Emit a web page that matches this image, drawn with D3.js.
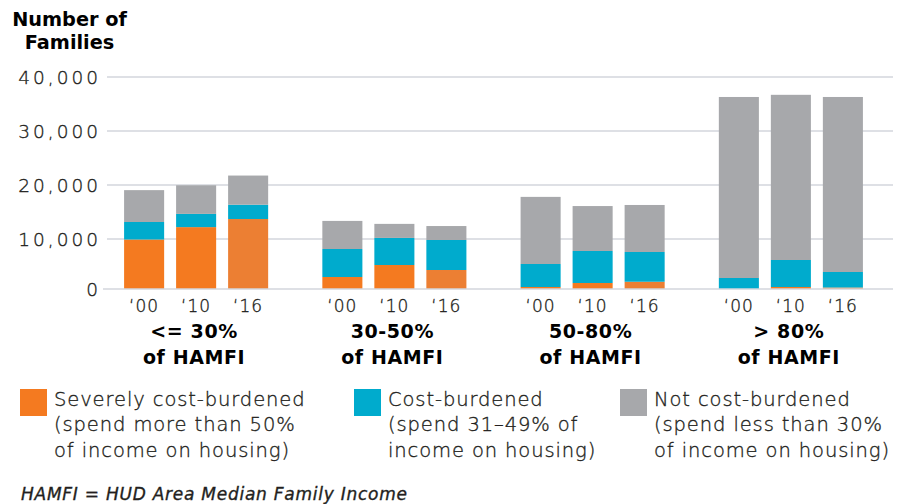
<!DOCTYPE html>
<html>
<head>
<meta charset="utf-8">
<script src="https://cdn.jsdelivr.net/npm/d3@7"></script>
<style>
  body { margin: 0; background: #fff; }
  svg text { font-family: "DejaVu Sans", sans-serif; }
  svg text.light { stroke: #231f20; stroke-width: 0.35px; }
</style>
</head>
<body>
<svg id="chart" width="902" height="504"></svg>
<script>
// Income brackets (share of HUD Area Median Family Income) and survey years
const groups = ["<= 30%", "30-50%", "50-80%", "> 80%"];
const groupSubLabel = "of HAMFI";
const years = ["‘00", "‘10", "‘16"];

// Number of families per bracket, one entry per year
const severe      = [[9900, 12200, 13700], [2400, 4800, 3800], [400, 1200, 1450], [0, 400, 300]];
const burdened    = [[3250, 2450, 2650],  [5600, 5400, 6000], [4600, 6400, 5950], [2200, 5400, 3100]];
const notBurdened = [[5900, 5300, 5400],  [5350, 2600, 2600], [12800, 8500, 8900], [34100, 30900, 32900]];

const yTicks = [0, 10000, 20000, 30000, 40000];
const titleLines = ["Number of", "Families"];
const footnote = "HAMFI = HUD Area Median Family Income";

const seriesKeys = ["severe", "burdened", "notBurdened"];
const legendLabels = [
  ["Severely cost-burdened", "(spend more than 50%", "of income on housing)"],
  ["Cost-burdened", "(spend 31–49% of", "income on housing)"],
  ["Not cost-burdened", "(spend less than 30%", "of income on housing)"]
];

// Styling
const colors = { severe: "#f47a20", burdened: "#00abcd", notBurdened: "#a7a8ab" };
const severeLatest = "#ec7f33";   // 2016 estimates are shaded a touch differently
const textColor = "#231f20";
const lightWeight = 200;

// Flatten into one row per bar
const rows = [];
groups.forEach((g, gi) => {
  years.forEach((yr, yi) => {
    rows.push({
      group: g, year: yr, yi,
      severe: severe[gi][yi],
      burdened: burdened[gi][yi],
      notBurdened: notBurdened[gi][yi]
    });
  });
});

const svg = d3.select("#chart");

// Scales: the bottom band of the axis is drawn slightly compressed
const y = d3.scaleLinear().domain([0, 10000, 40000]).range([289, 239, 77]);
const x0 = d3.scaleBand().domain(groups).range([97, 890]);
const x1 = d3.scaleBand().domain(years).range([0, x0.bandwidth()])
  .paddingInner(0.23).paddingOuter(0.521);

// Gridlines
svg.append("g")
  .selectAll("line")
  .data(yTicks.filter(d => d > 0))
  .join("line")
  .attr("x1", 107).attr("x2", 893)
  .attr("y1", d => y(d)).attr("y2", d => y(d))
  .attr("stroke", "#d3d6dc").attr("stroke-width", 1.3);

// Y tick labels (trailing letter-spacing is compensated in x)
const tickSpacing = 3;
svg.append("g")
  .selectAll("text")
  .data(yTicks)
  .join("text")
  .attr("class", "light")
  .attr("x", 98 + tickSpacing)
  .attr("y", d => y(d))
  .attr("dy", "0.36em")
  .attr("text-anchor", "end")
  .attr("font-size", 18.5)
  .attr("font-weight", lightWeight)
  .attr("letter-spacing", tickSpacing)
  .attr("fill", textColor)
  .text(d => d3.format(",")(d));

// Stacked bars
const stacked = d3.stack().keys(seriesKeys)(rows);
svg.append("g")
  .selectAll("g")
  .data(stacked)
  .join("g")
  .selectAll("rect")
  .data(s => s.map(d => ({ key: s.key, d })))
  .join("rect")
  .attr("x", o => x0(o.d.data.group) + x1(o.d.data.year))
  .attr("width", x1.bandwidth())
  .attr("y", o => y(o.d[1]))
  .attr("height", o => y(o.d[0]) - y(o.d[1]))
  .attr("fill", o => (o.key === "severe" && o.d.data.yi === 2) ? severeLatest : colors[o.key]);

// Baseline
svg.append("line")
  .attr("x1", 103).attr("x2", 893)
  .attr("y1", y(0)).attr("y2", y(0))
  .attr("stroke", "#d3d6dc").attr("stroke-width", 1.3);

// Year labels
svg.append("g")
  .selectAll("text")
  .data(rows)
  .join("text")
  .attr("class", "light")
  .attr("x", d => x0(d.group) + x1(d.year) + x1.bandwidth() / 2)
  .attr("y", 312)
  .attr("text-anchor", "middle")
  .attr("font-size", 17)
  .attr("font-weight", lightWeight)
  .attr("letter-spacing", 1)
  .attr("fill", textColor)
  .text(d => d.year);

// Bracket labels
const gx = d => x0(d) + x0.bandwidth() / 2 - 2;
const gl = svg.append("g")
  .selectAll("text")
  .data(groups)
  .join("text")
  .attr("text-anchor", "middle")
  .attr("font-size", 19)
  .attr("font-weight", 700)
  .attr("letter-spacing", 0.6)
  .attr("fill", "#000");
gl.append("tspan").attr("x", gx).attr("y", 338).text(d => d);
gl.append("tspan").attr("x", gx).attr("y", 364).text(groupSubLabel);

// Axis title
svg.append("g")
  .selectAll("text")
  .data(titleLines)
  .join("text")
  .attr("x", 69.5)
  .attr("y", (d, i) => 26 + i * 23)
  .attr("text-anchor", "middle")
  .attr("font-size", 19.3)
  .attr("font-weight", 700)
  .attr("fill", "#000")
  .text(d => d);

// Legend
const legendX = [20, 354, 620];
const lg = svg.append("g")
  .selectAll("g")
  .data(seriesKeys)
  .join("g")
  .attr("transform", (d, i) => `translate(${legendX[i]},0)`);
lg.append("rect")
  .attr("x", 0).attr("y", 389)
  .attr("width", 27).attr("height", 27)
  .attr("fill", d => colors[d]);
lg.append("text")
  .attr("class", "light")
  .attr("font-size", 19.5)
  .attr("font-weight", lightWeight)
  .attr("letter-spacing", 0.9)
  .attr("fill", textColor)
  .selectAll("tspan")
  .data((d, i) => legendLabels[i])
  .join("tspan")
  .attr("x", 34)
  .attr("y", (d, i) => 406 + i * 25.3)
  .text(d => d);

// Footnote
svg.append("text")
  .attr("class", "light")
  .attr("x", 21).attr("y", 500)
  .attr("font-size", 17)
  .attr("font-weight", lightWeight)
  .attr("font-style", "italic")
  .attr("letter-spacing", 0.75)
  .attr("fill", textColor)
  .text(footnote);
</script>
</body>
</html>
